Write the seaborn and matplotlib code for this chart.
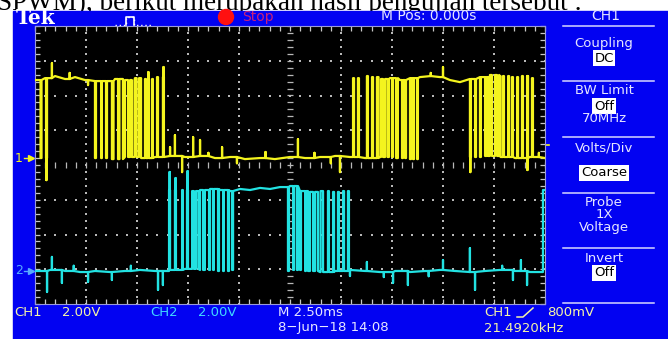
import numpy as np
import pandas as pd
import seaborn as sns
import matplotlib.pyplot as plt
from matplotlib.patches import Rectangle, Circle

plt.rcParams['font.family'] = ['DejaVu Sans']

# scope settings
MS_PER_DIV = 2.5
VOLTS_PER_DIV = 2.0
CH1_POS = 0.2      # divisions
CH2_POS = -3.05

# CH1 (yellow), time in ms, volts
ch1_edges = [-12.23, -12.18, -11.96, -11.91, -9.56, -9.51, -9.26, -9.22, -9.02, -8.97,
             -8.73, -8.65, -8.43, -8.36, -8.19, -8.09, -7.94, -7.84, -7.75, -7.62,
             -7.52, -7.40, -7.30, -7.11, -7.06, -6.96, -6.91, -6.76, -6.72, -6.52,
             -6.47, -6.23, -6.18,
             3.09, 3.14, 3.33, 3.38, 3.77, 3.82, 4.02, 4.07, 4.26, 4.34, 4.46, 4.56,
             4.66, 4.78, 4.85, 5.00, 5.05, 5.20, 5.29, 5.49, 5.54, 5.64, 5.69, 5.88,
             5.93, 6.03, 6.08, 6.23, 6.27, 8.82, 8.87, 9.07, 9.12, 9.31, 9.36, 9.56,
             9.63, 9.71, 9.80, 9.90, 10.05, 10.15, 10.25, 10.32, 10.44, 10.49, 10.69,
             10.74, 10.88, 10.93, 11.13, 11.18, 11.37, 11.42, 11.62, 11.67, 11.86, 11.91]
ch1_top_t = [-12.50, -12.01, -11.52, -11.03, -10.54, -10.05, -9.56, -9.07, -8.58, -8.09,
             -7.60, -7.11, -6.62, -6.13,
             2.94, 3.43, 3.92, 4.41, 4.90, 5.39, 5.88, 6.37, 6.86, 7.35, 7.84, 8.33,
             8.82, 9.31, 9.80, 10.29, 10.78, 11.27, 11.76]
ch1_top_v = [4.49, 4.60, 4.72, 4.55, 4.66, 4.49, 4.43, 4.43, 4.55, 4.49,
             4.60, 4.55, 4.66, 4.60,
             4.60, 4.72, 4.66, 4.55, 4.60, 4.49, 4.60, 4.66, 4.72, 4.66, 4.49, 4.37,
             4.55, 4.66, 4.78, 4.72, 4.66, 4.72, 4.60]
ch1_base_t = [-9.56, -8.82, -8.09, -7.35, -6.62, -5.88, -5.15, -4.41, -3.68, -2.94,
              -2.21, -1.47, -0.74, 0.00, 0.74, 1.47, 2.21, 2.94, 3.68, 4.41, 5.15,
              5.88, 6.62, 7.35, 8.09, 8.82, 9.56, 10.29, 11.03, 11.76, 12.50]
ch1_base_v = [0.0, -0.06, 0.06, 0.0, 0.06, 0.12, 0.06, 0.12, 0.0, 0.06,
              -0.06, 0.0, -0.06, 0.06, 0.0, 0.06, 0.12, 0.06, 0.0, 0.06, 0.0,
              -0.06, 0.0, 0.06, 0.0, 0.06, 0.12, 0.06, 0.0, 0.06, 0.0]
ch1_glitch_t = [-11.67, -11.94, -10.80, -9.90, -6.94, -6.20, -5.88, -5.64, -5.29, -4.75,
                -4.41, -4.00, -3.33, -2.60, -1.20, 0.39, 1.20, 2.00, 2.45, 6.90,
                7.50, 8.84, 11.64, 12.20]
ch1_glitch_v = [5.47, -1.27, 4.90, 4.20, 4.95, 5.24, 0.63, 1.32, -0.81, 1.21,
                1.04, 0.30, 0.63, -0.30, 0.35, 1.09, 0.30, -0.30, -0.81, 4.90,
                5.24, -0.81, -0.69, 0.30]

# CH2 (cyan)
ch2_edges = [-5.93, -5.88, -5.64, -5.59, -5.29, -5.25, -5.05, -5.00, -4.80, -4.71,
             -4.61, -4.49, -4.41, -4.26, -4.17, -3.97, -3.92, -3.77, -3.73, -3.53,
             -3.48, -3.28, -3.24, -3.04, -2.99, -2.84, -2.79, -0.10, -0.05, 0.15,
             0.20, 0.34, 0.39, 0.49, 0.54, 0.74, 0.78, 0.88, 0.98, 1.13, 1.23, 1.37,
             1.50, 1.62, 1.86, 1.91, 2.11, 2.16, 2.35, 2.40, 2.60, 2.65, 2.84, 2.89,
             12.40]
ch2_top_t = [-5.39, -4.90, -4.41, -3.92, -3.43, -2.94, -2.45, -1.96, -1.47, -0.98,
             -0.49, 0.00, 0.49, 0.98, 1.47, 1.96, 2.45, 2.94, 12.35]
ch2_top_v = [4.66, 4.60, 4.66, 4.72, 4.66, 4.60, 4.72, 4.66, 4.78, 4.72,
             4.83, 4.89, 4.60, 4.55, 4.60, 4.55, 4.60, 4.55, 4.66]
ch2_base_t = [-12.50, -11.76, -11.03, -10.29, -9.56, -8.82, -8.09, -7.35, -6.62, -5.88,
              -5.15, -4.41, -3.68, -2.94, -2.21, -1.47, -0.74, 0.00, 0.74, 1.47,
              2.21, 2.94, 3.68, 4.41, 5.15, 5.88, 6.62, 7.35, 8.09, 8.82, 9.56,
              10.29, 11.03, 11.76, 12.50]
ch2_base_v = [0.0, 0.06, 0.0, -0.06, 0.0, -0.06, 0.0, 0.06, 0.0, 0.06,
              0.12, 0.06, 0.0, 0.06, 0.0, -0.06, 0.0, 0.06, 0.0, -0.06,
              0.0, 0.06, 0.0, -0.06, 0.0, -0.06, 0.0, 0.06, 0.0, -0.06, 0.0,
              0.06, 0.0, -0.06, 0.0]
ch2_glitch_t = [-11.91, -11.67, -11.18, -10.60, -9.90, -8.73, -7.80, -6.47, -6.23, -5.90,
                -5.61, -5.02, 2.94, 3.77, 4.60, 5.05, 5.78, 6.80, 7.50, 8.82, 9.07,
                10.40, 10.93, 11.32, 11.62]
ch2_glitch_v = [-1.21, 0.81, -0.69, 0.30, -0.63, -0.52, 0.30, -1.09, -0.81, 5.70,
                5.35, 5.75, -0.29, 0.52, -0.35, -0.69, -0.81, -0.30, 0.63, 1.32, -1.09,
                0.30, -0.52, 0.63, -0.81]

top_labels = ["Tek", "Stop", "M Pos: 0.000s", "CH1"]
menu_items = [("Coupling", 43, False), ("DC", 58, True), ("BW Limit", 91, False),
              ("Off", 106, True), ("70MHz", 118, False), ("Volts/Div", 148, False),
              ("Coarse", 173, True), ("Probe", 202, False), ("1X", 214, False),
              ("Voltage", 227, False), ("Invert", 258, False), ("Off", 273, True)]

BLUE = '#0202f2'
YELLOW = '#f4f41e'
CYAN = '#22e2e2'
TXT = '#e6e6ff'


def level(t, ts, vs):
    i = np.searchsorted(ts, t, side='right') - 1
    return vs[max(i, 0)]


def build_trace(edges, start_high, top_t, top_v, base_t, base_v, gl_t, gl_v):
    # step waveform from toggle times, plus single spikes
    events = [(t, 'edge', None) for t in edges] + [(t, 'glitch', v) for t, v in zip(gl_t, gl_v)]
    events.sort(key=lambda e: e[0])
    high = start_high
    xs, ys = [], []
    cur = -12.5
    lv = lambda s, t: level(t, top_t, top_v) if s else level(t, base_t, base_v)
    xs.append(cur); ys.append(lv(high, cur))
    for t, kind, val in events + [(12.5, 'end', None)]:
        st, sv = (top_t, top_v) if high else (base_t, base_v)
        for a, b in zip(st, sv):
            if cur < a < t:
                xs.append(a); ys.append(b)
        here = lv(high, t)
        xs.append(t); ys.append(here)
        if kind == 'edge':
            high = not high
            xs.append(t); ys.append(lv(high, t))
        elif kind == 'glitch':
            xs.append(t); ys.append(val)
            xs.append(t); ys.append(here)
        cur = t
    return pd.DataFrame({'t': xs, 'volts': ys})


fig = plt.figure(figsize=(6.68, 3.39), dpi=100, facecolor='white')
bg = fig.add_axes([0, 0, 1, 1])
bg.set_xlim(0, 668)
bg.set_ylim(339, 0)
bg.axis('off')

bg.text(-3, 10, "SPWM), berikut merupakan hasil pengujian tersebut :",
        family='Liberation Serif', fontsize=19.5, va='baseline', ha='left', zorder=1)
bg.add_patch(Rectangle((13, 11), 660, 330, color=BLUE, zorder=2))

# top bar
bg.text(16, 18.5, top_labels[0], family='DejaVu Serif', fontweight='bold', fontsize=14.5,
        color='white', va='center', ha='left', zorder=3)
bg.plot([115, 118, 121, 124, 126, 126, 134, 134, 137, 141, 145, 149, 153],
        [25, 25, 25, 25, 25, 17, 17, 25, 25, 25, 25, 25, 25],
        color='white', lw=1, ls=(0, (1, 2)), zorder=3)
bg.plot([126, 126, 134, 134], [25, 17, 17, 25], color='white', lw=1.2, zorder=3)
bg.add_patch(Circle((226, 17), 7.5, color='#ff1010', zorder=3))
bg.text(242, 16.5, top_labels[1], fontsize=10, color='#c8207a', va='center', ha='left', zorder=3)
bg.text(381, 15.5, top_labels[2], fontsize=10, color=TXT, va='center', ha='left', zorder=3)
bg.text(606, 15.5, top_labels[3], fontsize=10, color=TXT, va='center', ha='center', zorder=3)

# side menu
for yy in [26, 81, 137, 193, 248, 303]:
    bg.plot([563, 654], [yy, yy], color='#d8d8ff', lw=1.1, zorder=3)
for label, yy, boxed in menu_items:
    if boxed:
        bg.text(604, yy, label, fontsize=9.5, color='black', va='center', ha='center', zorder=3,
                bbox=dict(boxstyle='square,pad=0.12', fc='white', ec='none'))
    else:
        bg.text(604, yy, label, fontsize=9.5, color=TXT, va='center', ha='center', zorder=3)

# bottom status
bg.text(14, 312, "CH1", fontsize=9.5, color='#f4f4a8', va='center', zorder=3)
bg.text(62, 312, "2.00V", fontsize=9.5, color='#f4f4a8', va='center', zorder=3)
bg.text(150, 312, "CH2", fontsize=9.5, color='#40d8ff', va='center', zorder=3)
bg.text(198, 312, "2.00V", fontsize=9.5, color='#40d8ff', va='center', zorder=3)
bg.text(278, 312, "M 2.50ms", fontsize=9.5, color=TXT, va='center', zorder=3)
bg.text(278, 328, "8\u2212Jun\u221218 14:08", fontsize=9.5, color=TXT, va='center', zorder=3)
bg.text(484, 312, "CH1", fontsize=9.5, color='#f4f4a8', va='center', zorder=3)
bg.plot([517, 523, 533], [317, 317, 308], color='#f4f4a8', lw=1.1, zorder=3)
bg.text(547, 312, "800mV", fontsize=9.5, color='#f4f4a8', va='center', zorder=3)
bg.text(484, 328, "21.4920kHz", fontsize=9.5, color='#f4f4a8', va='center', zorder=3)

# channel markers
bg.text(15, 158, "1", fontsize=9, color=YELLOW, va='center', zorder=3)
bg.plot([24, 31], [158, 158], color=YELLOW, lw=1, zorder=3)
bg.plot([31], [158], marker='>', ms=4, color=YELLOW, zorder=3)
bg.text(15, 271, "2", fontsize=9, color='#58aaff', va='center', zorder=3)
bg.plot([24, 31], [271, 271], color='#58aaff', lw=1, zorder=3)
bg.plot([31], [271], marker='>', ms=4, color='#58aaff', zorder=3)

# scope screen
ax = fig.add_axes([35 / 668, (339 - 304) / 339, 510 / 668, 278 / 339])
ax.set_facecolor('black')
ax.set_xlim(-5 * MS_PER_DIV, 5 * MS_PER_DIV)
ax.set_ylim(-4, 4)
ax.set_xticks(np.arange(-12.5, 12.51, MS_PER_DIV / 5))
ax.set_yticks(np.arange(-4, 4.01, 0.2))
ax.tick_params(direction='in', length=3.5, width=0.9, color='#c8c8c8',
               top=True, right=True, labelbottom=False, labelleft=False)
for s in ax.spines.values():
    s.set_color('#9a9ad8')
    s.set_linewidth(0.8)

gx = np.arange(-12.5, 12.51, MS_PER_DIV / 5)
gy = np.arange(-4, 4.01, 0.2)
for yy in [-3, -2, -1, 1, 2, 3]:
    ax.scatter(gx, np.full_like(gx, yy), s=1.8, marker='s', color='#b8b8b8', lw=0, zorder=1)
for xx in [-10, -7.5, -5, -2.5, 2.5, 5, 7.5, 10]:
    ax.scatter(np.full_like(gy, xx), gy, s=1.8, marker='s', color='#b8b8b8', lw=0, zorder=1)
ax.hlines(gy, -0.15, 0.15, color='#b8b8b8', lw=0.9, zorder=1)
ax.vlines(gx, -0.09, 0.09, color='#b8b8b8', lw=0.9, zorder=1)

ch1 = build_trace(ch1_edges, True, ch1_top_t, ch1_top_v, ch1_base_t, ch1_base_v,
                  ch1_glitch_t, ch1_glitch_v)
ch2 = build_trace(ch2_edges, False, ch2_top_t, ch2_top_v, ch2_base_t, ch2_base_v,
                  ch2_glitch_t, ch2_glitch_v)
ch1['div'] = ch1.volts / VOLTS_PER_DIV + CH1_POS
ch2['div'] = ch2.volts / VOLTS_PER_DIV + CH2_POS

sns.lineplot(data=ch1, x='t', y='div', sort=False, estimator=None, color=YELLOW,
             linewidth=1.6, legend=False, ax=ax, zorder=3)
sns.lineplot(data=ch2, x='t', y='div', sort=False, estimator=None, color=CYAN,
             linewidth=1.6, legend=False, ax=ax, zorder=3)
ax.set_xlabel('')
ax.set_ylabel('')

# trigger markers
bg.plot([290, 290], [27, 32], color='white', lw=1.5, zorder=5)
bg.plot([290], [33], marker='v', ms=5, color='white', zorder=5)
bg.plot([541, 549], [145, 145], color=YELLOW, lw=1.2, zorder=5)
bg.plot([541], [145], marker='<', ms=5, color=YELLOW, zorder=5)

fig.savefig('out.png', dpi=100, facecolor='white')
